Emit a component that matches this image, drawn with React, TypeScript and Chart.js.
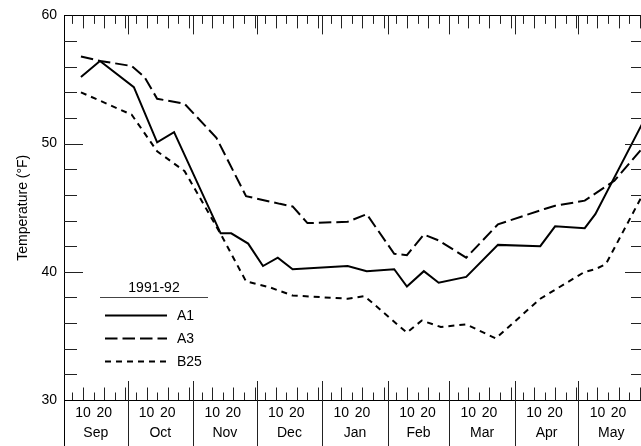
import React, { useEffect, useRef } from 'react';
import { Chart, registerables } from 'chart.js';

Chart.register(...registerables);

// ---- data ----
const monthNames = ['Sep', 'Oct', 'Nov', 'Dec', 'Jan', 'Feb', 'Mar', 'Apr', 'May'];
const monthLengths = [30, 31, 30, 31, 31, 29, 31, 30, 31];
const dayLabels = ['10', '20'];
const yTicks = [30, 40, 50, 60];
const legendTitle = '1991-92';
const seriesNames = ['A1', 'A3', 'B25'];
const yTitle = 'Temperature (°F)';

// days counted from 1 Sep 1991 (= 0)
const a1Days = [8, 17, 33, 44, 52, 74, 79, 87, 94, 101, 108, 134, 143, 156, 162, 170, 177, 190, 205, 225, 232, 246, 251, 273];
const a1Temps = [55.2, 56.45, 54.4, 50.1, 50.9, 43.0, 43.0, 42.2, 40.45, 41.1, 40.2, 40.45, 40.05, 40.2, 38.85, 40.05, 39.15, 39.6, 42.1, 42.0, 43.55, 43.4, 44.5, 51.5];

const a3Days = [8, 17, 32, 38, 44, 57, 72, 86, 102, 108, 115, 134, 143, 156, 162, 170, 177, 190, 205, 227, 232, 246, 260, 273];
const a3Temps = [56.8, 56.45, 56.05, 55.2, 53.5, 53.1, 50.45, 45.9, 45.3, 45.1, 43.8, 43.9, 44.5, 41.4, 41.3, 42.9, 42.45, 41.1, 43.7, 44.9, 45.15, 45.55, 47.1, 49.6];

const b25Days = [8, 32, 44, 57, 74, 86, 97, 108, 134, 142, 162, 169, 178, 190, 204, 225, 232, 246, 251, 256, 273];
const b25Temps = [54.0, 52.25, 49.4, 47.85, 42.95, 39.25, 38.8, 38.15, 37.9, 38.1, 35.25, 36.2, 35.7, 35.9, 34.8, 37.9, 38.6, 40.0, 40.2, 40.6, 45.9];

const FONT = '"Liberation Sans", Arial, Helvetica, sans-serif';

const monthStarts: number[] = [];
{
  let acc = 0;
  for (const l of monthLengths) {
    monthStarts.push(acc);
    acc += l;
  }
}
const totalDays = monthLengths.reduce((a, b) => a + b, 0);
const dayTickValues: number[] = [];
const dayTickText: string[] = [];
monthStarts.forEach((s) => {
  dayLabels.forEach((lbl) => {
    dayTickValues.push(s + Number(lbl) - 1);
    dayTickText.push(lbl);
  });
});
const monthMids = monthStarts.map((s, i) => s + monthLengths[i] / 2);

const dashes: number[][] = [[], [12.5, 5], [6, 5]];

const framePlugin = {
  id: 'frameTicks',
  afterDraw(chart: any) {
    const { ctx, chartArea } = chart;
    const xs = chart.scales.x;
    const ys = chart.scales.y;
    const { left, right, top, bottom } = chartArea;
    const H = chart.height;
    const al = (v: number) => Math.round(v) + 0.5;
    ctx.save();
    ctx.lineWidth = 1;
    ctx.strokeStyle = '#000';
    ctx.setLineDash([]);
    // frame
    ctx.beginPath();
    ctx.moveTo(left, al(top));
    ctx.lineTo(right, al(top));
    ctx.moveTo(left, al(bottom));
    ctx.lineTo(right, al(bottom));
    ctx.moveTo(al(left), top);
    ctx.lineTo(al(left), H);
    ctx.moveTo(al(right), top);
    ctx.lineTo(al(right), H);
    ctx.stroke();

    // y ticks
    ctx.strokeStyle = '#222';
    ctx.beginPath();
    for (let v = ys.min + 2; v < ys.max; v += 2) {
      const y = al(ys.getPixelForValue(v));
      const len = v % 10 === 0 ? 19 : 13;
      ctx.moveTo(left, y);
      ctx.lineTo(left + len, y);
      ctx.moveTo(right, y);
      ctx.lineTo(right - len, y);
    }
    ctx.stroke();

    // x ticks
    ctx.beginPath();
    monthStarts.forEach((s, i) => {
      const xb = al(xs.getPixelForValue(s));
      if (i > 0) {
        ctx.moveTo(xb, top);
        ctx.lineTo(xb, top + 19);
        ctx.moveTo(xb, bottom - 19);
        ctx.lineTo(xb, H);
      }
      for (let d = 5; d <= monthLengths[i]; d += 5) {
        const x = al(xs.getPixelForValue(s + d - 1));
        const longT = d % 10 === 0;
        ctx.moveTo(x, top);
        ctx.lineTo(x, top + (longT ? 13 : 8.5));
        ctx.moveTo(x, bottom);
        ctx.lineTo(x, bottom - (longT ? 12.5 : 7.5));
      }
    });
    ctx.stroke();

    // legend
    const lx = left + 36;
    const ly = top + 273;
    ctx.fillStyle = '#000';
    ctx.font = `14px ${FONT}`;
    ctx.textAlign = 'center';
    ctx.textBaseline = 'middle';
    ctx.fillText(legendTitle, lx + 54, ly);
    ctx.strokeStyle = '#444';
    ctx.beginPath();
    ctx.moveTo(lx, al(ly + 9));
    ctx.lineTo(lx + 108, al(ly + 9));
    ctx.stroke();
    ctx.textAlign = 'left';
    seriesNames.forEach((name, i) => {
      const y = ly + 27 + i * 23;
      ctx.strokeStyle = '#000';
      ctx.lineWidth = 2;
      ctx.setLineDash(dashes[i]);
      ctx.beginPath();
      ctx.moveTo(lx + 5, y);
      ctx.lineTo(lx + 67, y);
      ctx.stroke();
      ctx.setLineDash([]);
      ctx.fillText(name, lx + 77, y + 0.5);
    });
    ctx.restore();
  },
};

export default function App() {
  const ref = useRef<HTMLCanvasElement>(null);
  useEffect(() => {
    if (!ref.current) return;
    const mk = (days: number[], temps: number[]) => days.map((d, i) => ({ x: d, y: temps[i] }));
    const series = [mk(a1Days, a1Temps), mk(a3Days, a3Temps), mk(b25Days, b25Temps)];
    const chart = new Chart(ref.current, {
      type: 'line',
      data: {
        datasets: series.map((data, i) => ({
          label: seriesNames[i],
          data,
          borderColor: '#000',
          borderWidth: 2,
          borderDash: dashes[i],
          pointRadius: 0,
          tension: 0,
          fill: false,
        })),
      },
      options: {
        animation: false,
        responsive: false,
        devicePixelRatio: 1,
        layout: { padding: { top: 13, right: 16, left: 0, bottom: 0 } },
        plugins: { legend: { display: false }, tooltip: { enabled: false } },
        scales: {
          x: {
            type: 'linear',
            position: 'bottom',
            min: 0,
            max: totalDays,
            weight: 0,
            grid: { display: false, drawTicks: false },
            border: { display: false },
            afterBuildTicks: (scale: any) => {
              scale.ticks = dayTickValues.map((v) => ({ value: v }));
            },
            afterFit: (scale: any) => {
              scale.height = 20;
            },
            ticks: {
              autoSkip: false,
              maxRotation: 0,
              minRotation: 0,
              padding: 5,
              color: '#000',
              font: { family: FONT, size: 14 },
              callback: (_v: any, i: number) => dayTickText[i],
            },
          },
          x2: {
            type: 'linear',
            position: 'bottom',
            min: 0,
            max: totalDays,
            weight: 1,
            grid: { display: false, drawTicks: false },
            border: { display: false },
            afterBuildTicks: (scale: any) => {
              scale.ticks = monthMids.map((v) => ({ value: v }));
            },
            afterFit: (scale: any) => {
              scale.height = 26;
            },
            ticks: {
              autoSkip: false,
              maxRotation: 0,
              minRotation: 0,
              padding: 5,
              color: '#000',
              font: { family: FONT, size: 14 },
              callback: (_v: any, i: number) => monthNames[i],
            },
          },
          y: {
            type: 'linear',
            min: yTicks[0],
            max: yTicks[yTicks.length - 1],
            grid: { display: false, drawTicks: false },
            border: { display: false },
            afterBuildTicks: (scale: any) => {
              scale.ticks = yTicks.map((v) => ({ value: v }));
            },
            afterFit: (scale: any) => {
              scale.width = 64;
            },
            ticks: {
              padding: 7,
              color: '#000',
              font: { family: FONT, size: 14 },
            },
            title: {
              display: true,
              text: yTitle,
              color: '#000',
              font: { family: FONT, size: 14 },
              padding: { top: 15, bottom: 0 },
            },
          },
        },
      },
      plugins: [framePlugin],
    } as any);
    return () => chart.destroy();
  }, []);
  return (
    <div
      style={{
        position: 'fixed',
        left: 0,
        top: 0,
        width: 641,
        height: 446,
        overflow: 'hidden',
        background: '#fff',
      }}
    >
      <canvas ref={ref} width={660} height={446} style={{ display: 'block' }} />
    </div>
  );
}
